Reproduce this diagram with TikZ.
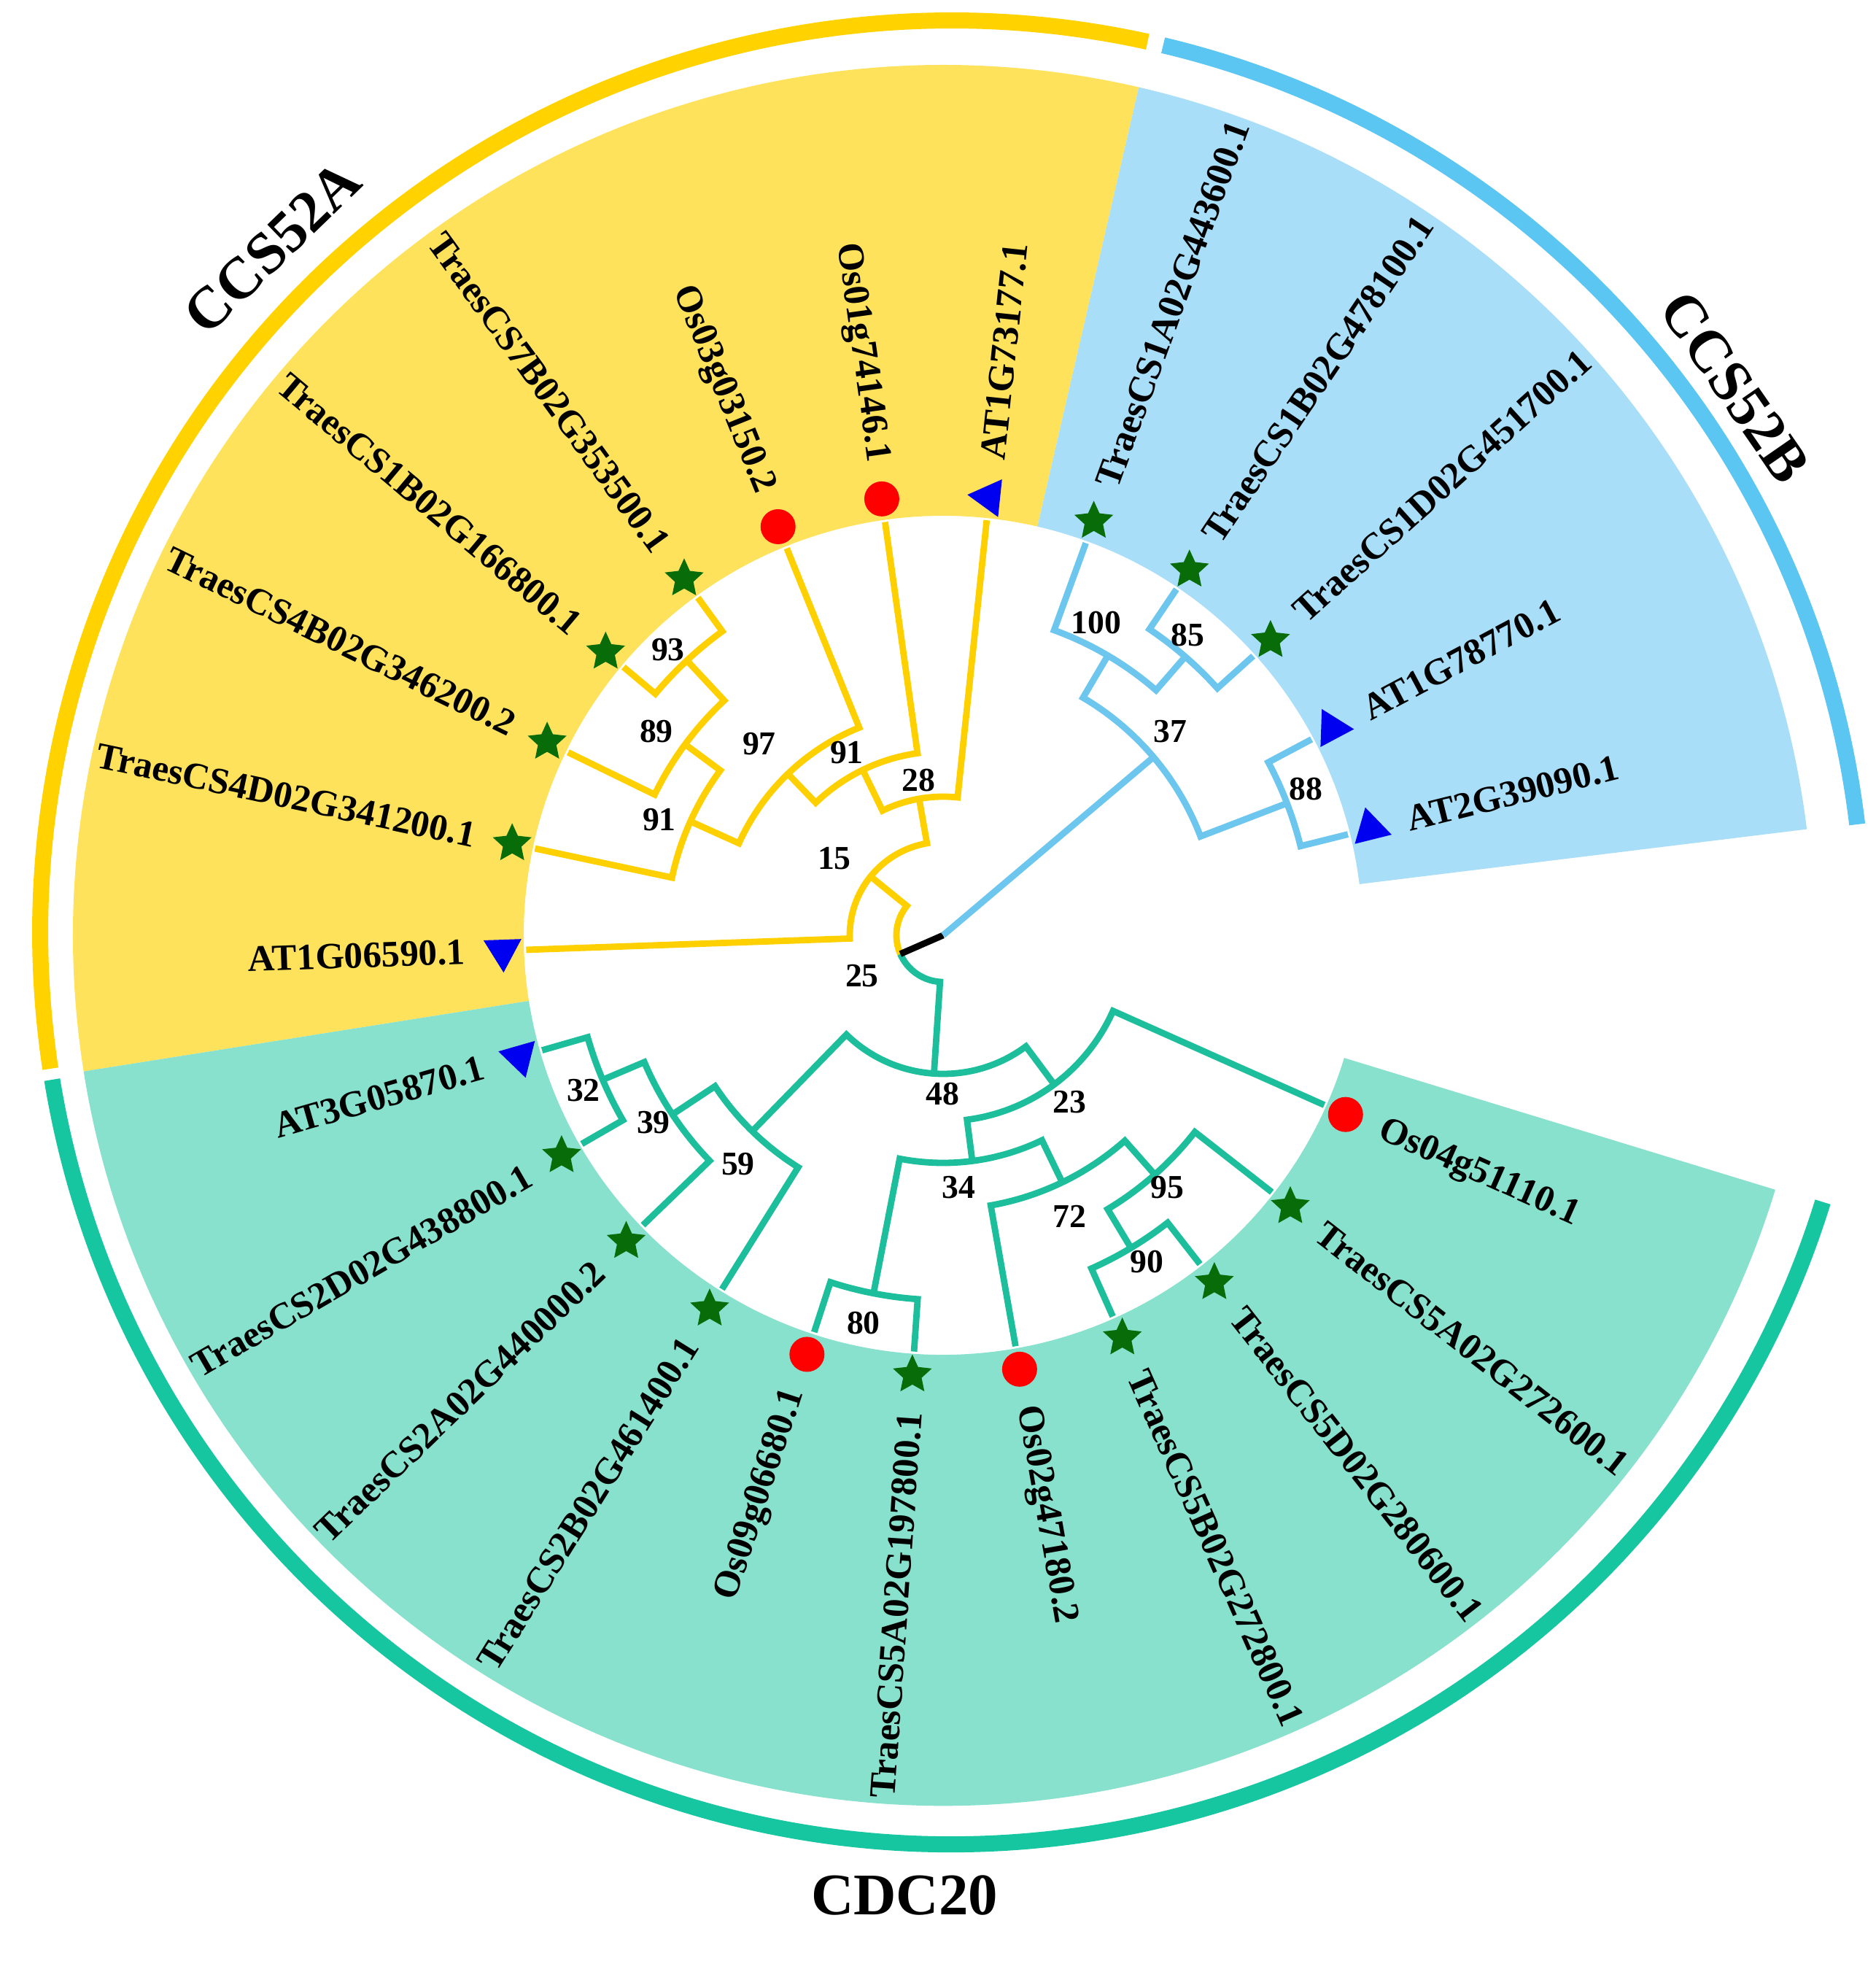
\documentclass[tikz,border=0pt]{standalone}
\usepackage{fontspec}
\setmainfont{Liberation Serif}
\usetikzlibrary{shapes.geometric}

\definecolor{ylwline}{HTML}{FFD000}
\definecolor{ylwfill}{HTML}{FFE25C}
\definecolor{ylwarc}{HTML}{FFD200}
\definecolor{bluline}{HTML}{6CC6EE}
\definecolor{blufill}{HTML}{A8DEF8}
\definecolor{bluarc}{HTML}{5CC6F2}
\definecolor{grnline}{HTML}{1DBE9C}
\definecolor{grnfill}{HTML}{88E1CD}
\definecolor{grnarc}{HTML}{16C6A0}
\definecolor{ricered}{HTML}{FF0000}
\definecolor{wheatgreen}{HTML}{086C08}
\definecolor{arabblue}{HTML}{0000F0}

\tikzset{
  branch/.style={line width=2.5pt},
  bandarc/.style={line width=0.22cm},
  leaf/.style={font=\bfseries\fontsize{14.5}{16}\selectfont, inner sep=0pt},
  leafR/.style={leaf, anchor=west},
  leafL/.style={leaf, anchor=east},
  boot/.style={font=\bfseries\fontsize{13}{14}\selectfont, inner sep=0pt},
  cladelab/.style={font=\bfseries\fontsize{23}{26}\selectfont, inner sep=0pt},
  wheat/.style={star, star points=5, star point ratio=2.1, fill=wheatgreen, inner sep=0pt, minimum size=0.56cm},
  rice/.style={circle, fill=ricered, inner sep=0pt, minimum size=0.48cm},
  arab/.style={regular polygon, regular polygon sides=3, fill=arabblue, inner sep=0pt, minimum size=0.6cm}
}

% #1 colour, #2 radius of the node, #3/#4 first child angle/radius, #5/#6 second child
\newcommand{\clade}[6]{\draw[branch,#1] (#3:#4) -- (#3:#2) arc[start angle=#3, end angle=#5, radius=#2] -- (#5:#6);}

\begin{document}
\begin{tikzpicture}
\useasboundingbox (-12.93,-14.06) rectangle (12.78,12.82);

\fill[ylwfill] (77:5.75) arc[start angle=77, end angle=189, radius=5.75] -- (189:11.93) arc[start angle=189, end angle=77, radius=11.93] -- cycle;
\fill[blufill] (7:5.75) arc[start angle=7, end angle=77, radius=5.75] -- (77:11.93) arc[start angle=77, end angle=7, radius=11.93] -- cycle;
\fill[grnfill] (189:5.75) arc[start angle=189, end angle=343, radius=5.75] -- (343:11.93) arc[start angle=343, end angle=189, radius=11.93] -- cycle;

\clade{ylwline}{5.15}{140}{5.72}{126}{5.72}
\clade{ylwline}{4.40}{154}{5.72}{133}{5.15}
\clade{ylwline}{3.80}{168}{5.72}{143.5}{4.40}
\clade{ylwline}{3.07}{155.75}{3.80}{112}{5.72}
\clade{ylwline}{2.52}{133.875}{3.07}{98}{5.72}
\clade{ylwline}{1.90}{115.94}{2.52}{84}{5.72}
\clade{ylwline}{1.28}{182}{5.72}{99.97}{1.90}

\clade{bluline}{5.06}{56}{5.72}{42}{5.72}
\clade{bluline}{4.45}{70}{5.72}{49}{5.06}
\clade{bluline}{5.05}{28}{5.72}{14}{5.72}
\clade{bluline}{3.78}{59.5}{4.45}{21}{5.05}

\clade{grnline}{5.07}{196}{5.72}{210}{5.72}
\clade{grnline}{4.45}{203}{5.07}{224}{5.72}
\clade{grnline}{3.75}{213.5}{4.45}{238}{5.72}
\clade{grnline}{5.00}{252}{5.72}{266}{5.72}
\clade{grnline}{5.00}{294}{5.72}{308}{5.72}
\clade{grnline}{4.38}{301}{5.00}{322}{5.72}
\clade{grnline}{3.76}{280}{5.72}{311.5}{4.38}
\clade{grnline}{3.12}{259}{5.00}{295.75}{3.76}
\clade{grnline}{2.55}{277.375}{3.12}{336}{5.72}
\clade{grnline}{1.90}{225.75}{3.75}{306.69}{2.55}

\coordinate (root) at (0,0);
\coordinate (n25) at (203.6:0.64);
\coordinate (n37) at (40.25:3.78);
\draw[branch, ylwline] (140.98:1.28) -- (140.98:0.64) arc[start angle=140.98, end angle=203.6, radius=0.64];
\draw[branch, grnline] (n25) arc[start angle=203.6, end angle=266.22, radius=0.64] -- (266.22:1.90);
\draw[branch, black] (root) -- (n25);
\draw[branch, bluline] (root) -- (n37);

\node[arab, rotate=182] (m1) at (182:6.04) {};
\node[leafL, rotate=2] (t1) at (182:6.55) {AT1G06590.1};
\node[wheat] (m2) at (168:6.04) {};
\node[leafL, rotate=-12] (t2) at (168:6.55) {TraesCS4D02G341200.1};
\node[wheat] (m3) at (154:6.04) {};
\node[leafL, rotate=-26] (t3) at (154:6.55) {TraesCS4B02G346200.2};
\node[wheat] (m4) at (140:6.04) {};
\node[leafL, rotate=-40] (t4) at (140:6.55) {TraesCS1B02G166800.1};
\node[wheat] (m5) at (126:6.04) {};
\node[leafL, rotate=-54] (t5) at (126:6.55) {TraesCS7B02G353500.1};
\node[rice] (m6) at (112:6.04) {};
\node[leafL, rotate=-68] (t6) at (112:6.55) {Os03g03150.2};
\node[rice] (m7) at (98:6.04) {};
\node[leafL, rotate=-82] (t7) at (98:6.55) {Os01g74146.1};
\node[arab, rotate=84] (m8) at (84:6.04) {};
\node[leafR, rotate=84] (t8) at (84:6.55) {AT1G73177.1};
\node[wheat] (m9) at (70:6.04) {};
\node[leafR, rotate=70] (t9) at (70:6.55) {TraesCS1A02G443600.1};
\node[wheat] (m10) at (56:6.04) {};
\node[leafR, rotate=56] (t10) at (56:6.55) {TraesCS1B02G478100.1};
\node[wheat] (m11) at (42:6.04) {};
\node[leafR, rotate=42] (t11) at (42:6.55) {TraesCS1D02G451700.1};
\node[arab, rotate=28] (m12) at (28:6.04) {};
\node[leafR, rotate=28] (t12) at (28:6.55) {AT1G78770.1};
\node[arab, rotate=14] (m13) at (14:6.04) {};
\node[leafR, rotate=14] (t13) at (14:6.55) {AT2G39090.1};
\node[rice] (m14) at (-24:6.04) {};
\node[leafR, rotate=-24] (t14) at (-24:6.55) {Os04g51110.1};
\node[wheat] (m15) at (-38:6.04) {};
\node[leafR, rotate=-38] (t15) at (-38:6.55) {TraesCS5A02G272600.1};
\node[wheat] (m16) at (-52:6.04) {};
\node[leafR, rotate=-52] (t16) at (-52:6.55) {TraesCS5D02G280600.1};
\node[wheat] (m17) at (-66:6.04) {};
\node[leafR, rotate=-66] (t17) at (-66:6.55) {TraesCS5B02G272800.1};
\node[rice] (m18) at (-80:6.04) {};
\node[leafR, rotate=-80] (t18) at (-80:6.55) {Os02g47180.2};
\node[wheat] (m19) at (-94:6.04) {};
\node[leafL, rotate=86] (t19) at (-94:6.55) {TraesCS5A02G197800.1};
\node[rice] (m20) at (-108:6.04) {};
\node[leafL, rotate=72] (t20) at (-108:6.55) {Os09g06680.1};
\node[wheat] (m21) at (-122:6.04) {};
\node[leafL, rotate=58] (t21) at (-122:6.55) {TraesCS2B02G461400.1};
\node[wheat] (m22) at (-136:6.04) {};
\node[leafL, rotate=44] (t22) at (-136:6.55) {TraesCS2A02G440000.2};
\node[wheat] (m23) at (-150:6.04) {};
\node[leafL, rotate=30] (t23) at (-150:6.55) {TraesCS2D02G438800.1};
\node[arab, rotate=196] (m24) at (-164:6.04) {};
\node[leafL, rotate=16] (t24) at (-164:6.55) {AT3G05870.1};

\node[boot] (b93) at (-3.77,3.91) {93};
\node[boot] (b89) at (-3.93,2.79) {89};
\node[boot] (b91a) at (-3.89,1.58) {91};
\node[boot] (b97) at (-2.52,2.62) {97};
\node[boot] (b91b) at (-1.32,2.50) {91};
\node[boot] (b28) at (-0.34,2.12) {28};
\node[boot] (b15) at (-1.49,1.05) {15};
\node[boot] (b25) at (-1.11,-0.56) {25};
\node[boot] (b100) at (2.10,4.28) {100};
\node[boot] (b85) at (3.35,4.11) {85};
\node[boot] (b37) at (3.11,2.79) {37};
\node[boot] (b88) at (4.97,2.00) {88};
\node[boot] (b48) at (-0.01,-2.18) {48};
\node[boot] (b23) at (1.73,-2.29) {23};
\node[boot] (b32) at (-4.93,-2.13) {32};
\node[boot] (b39) at (-3.97,-2.57) {39};
\node[boot] (b59) at (-2.81,-3.14) {59};
\node[boot] (b34) at (0.21,-3.46) {34};
\node[boot] (b72) at (1.73,-3.85) {72};
\node[boot] (b95) at (3.07,-3.46) {95};
\node[boot] (b90) at (2.79,-4.48) {90};
\node[boot] (b80) at (-1.09,-5.32) {80};

\begin{scope}[shift={(0.12,0.04)}]
\draw[bandarc, ylwarc] (77.6:12.5) arc[start angle=77.6, end angle=188.6, radius=12.5];
\draw[bandarc, bluarc] (76.6:12.5) arc[start angle=76.6, end angle=6.8, radius=12.5];
\draw[bandarc, grnarc] (189.3:12.5) arc[start angle=189.3, end angle=342.8, radius=12.5];
\end{scope}

\node[cladelab, rotate=44] (cA) at (134.3:13.17) {CCS52A};
\node[cladelab, rotate=-55.3] (cB) at (34.7:13.20) {CCS52B};
\node[cladelab] (cC) at (-0.53,-13.16) {CDC20};
\end{tikzpicture}
\end{document}
